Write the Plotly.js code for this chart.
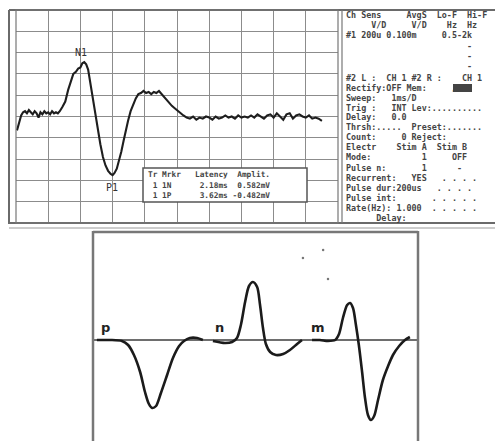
<!DOCTYPE html>
<html><head><meta charset="utf-8">
<script src="https://cdn.plot.ly/plotly-3.0.1.min.js"></script>
<style>html,body{margin:0;padding:0;background:#fff}#c{width:495px;height:441px}</style>
</head><body><div id="c"></div>
<script>
// ---- Top panel: recorded EMG trace (x: ms, y: mV) ----
const traceMs = [0.03,0.09,0.16,0.22,0.28,0.34,0.40,0.46,0.52,0.58,0.64,0.70,0.76,0.82,0.88,0.94,1.00,1.06,1.12,1.18,1.24,1.30,1.36,
 1.44,1.53,1.62,1.70,1.78,1.86,1.93,2.00,2.06,2.12,2.18,2.24,2.30,2.36,2.42,2.48,2.55,2.62,2.70,2.78,2.86,2.94,3.00,3.06,3.13,3.20,3.27,3.34,3.41,3.48,3.56,3.64,3.72,3.80,3.88,3.96,
 4.04,4.12,4.20,4.28,4.36,4.44,4.52,4.60,4.68,4.76,4.84,4.92,5.00,5.10,5.20,5.30,5.40,5.50,5.60,5.70,5.80,5.90,6.00,6.10,6.20,6.30,6.40,6.50,6.60,6.70,6.80,6.90,
 7.00,7.10,7.20,7.30,7.40,7.50,7.60,7.70,7.80,7.90,8.00,8.10,8.20,8.30,8.40,8.50,8.60,8.70,8.80,8.90,9.00,9.10,9.20,9.30,9.40,9.50];
const traceMv = [-0.13,-0.06,0.01,0.04,0.05,0.03,0.06,0.04,0.02,0.05,0.03,-0.01,0.04,0.02,0.05,0.03,0.04,0.02,0.05,0.03,0.04,0.03,0.05,
 0.09,0.14,0.25,0.33,0.40,0.42,0.45,0.46,0.50,0.51,0.49,0.44,0.33,0.22,0.10,-0.02,-0.14,-0.26,-0.38,-0.46,-0.51,-0.54,-0.55,-0.53,-0.49,-0.42,-0.33,-0.23,-0.13,-0.04,0.05,0.11,0.17,0.21,0.22,0.24,
 0.22,0.23,0.21,0.23,0.22,0.24,0.21,0.18,0.16,0.13,0.10,0.08,0.06,0.03,0.01,-0.01,-0.02,0.00,-0.03,-0.01,-0.02,0.00,-0.01,-0.03,0.00,-0.02,-0.01,0.01,-0.01,0.00,-0.02,0.01,
 -0.01,0.00,-0.01,0.01,-0.01,0.02,0.00,-0.02,0.01,0.02,-0.01,0.03,0.00,-0.03,0.02,0.03,-0.02,0.01,0.02,0.00,-0.01,0.01,-0.02,-0.01,-0.02,-0.04];
const peakLabels = ["N1","P1"];
const peakMs = [2.03, 2.99];
const peakMv = [0.60, -0.67];
const tableRows = ["Tr Mrkr   Latency  Amplit.", " 1 1N      2.18ms  0.582mV", " 1 1P      3.62ms -0.482mV"];
const settingsLines = [
 "Ch Sens     AvgS  Lo-F  Hi-F",
 "     V/D     V/D    Hz  Hz",
 "#1 200u 0.100m     0.5-2k",
 "                        -",
 "                        -",
 "                        -",
 "#2 L :  CH 1 #2 R :    CH 1",
 "Rectify:OFF Mem:     /93",
 "Sweep:   1ms/D",
 "Trig :   INT Lev:..........",
 "Delay:   0.0",
 "Thrsh:.....  Preset:.......",
 "Count:     0 Reject:",
 "Electr    Stim A  Stim B",
 "Mode:          1     OFF",
 "Pulse n:       1      -",
 "Recurrent:   YES   . . . .",
 "Pulse dur:200us   . . . .",
 "Pulse int:       . . . . .",
 "Rate(Hz): 1.000  . . . . .",
 "      Delay:"
];
const settingsY = [15,25,35,46,56,66,78,88,98,108,117,127,137,147,157,168,178,188,198,208,218];

// ---- Bottom panel: schematic waveforms p, n, m ----
const pX = [1.2,5.2,8.9,10.8,12.6,14.5,16.0,17.2,18.2,19.4,20.9,22.8,24.6,26.5,28.0,29.8,32.0,33.8];
const pY = [0,0,-0.01,-0.05,-0.15,-0.32,-0.52,-0.64,-0.68,-0.66,-0.53,-0.35,-0.18,-0.06,-0.01,0.02,0.02,0.0];
const nX = [36.9,40.6,42.8,44.3,45.5,46.8,48.0,49.2,50.5,51.4,52.3,53.2,54.5,56.3,58.5,60.6,62.8,64.3];
const nY = [-0.01,-0.03,-0.02,0.02,0.15,0.38,0.54,0.58,0.53,0.35,0.12,-0.04,-0.12,-0.15,-0.14,-0.10,-0.04,0.0];
const mX = [67.4,69.8,72.3,74.5,75.7,76.9,78.2,79.1,80.0,80.9,81.8,82.8,83.7,84.6,85.5,86.5,87.7,89.2,90.8,92.3,94.2,96.0,97.5];
const mY = [0,0,-0.01,0,0.06,0.22,0.35,0.37,0.32,0.15,-0.05,-0.32,-0.58,-0.75,-0.80,-0.76,-0.60,-0.40,-0.26,-0.15,-0.06,0.0,0.03];
const waveLabels = ["p","n","m"];
const waveLabelX = [3.7, 38.8, 69.2];
const waveLabelY = [0.13, 0.13, 0.13];
const speckX = [64.6, 70.8, 72.3];
const speckY = [0.82, 0.90, 0.61];

// ---- layout helpers (pixel -> paper) ----
const W = 495, H = 441;
const PX = v => v / W, PY = v => 1 - v / H;
const line = (x0,y0,x1,y1,c,w) => ({type:'line',xref:'paper',yref:'paper',x0:PX(x0),y0:PY(y0),x1:PX(x1),y1:PY(y1),line:{color:c,width:w}});

const waveStyle = {color:'#1b1b1b', width:2.6, shape:'spline', smoothing:0.8};
const data = [
 {x:traceMs, y:traceMv, xaxis:'x', yaxis:'y', type:'scatter', mode:'lines', line:{color:'#1e1e1e', width:2.1}, hoverinfo:'skip'},
 {x:pX, y:pY, xaxis:'x2', yaxis:'y2', type:'scatter', mode:'lines', line:waveStyle, hoverinfo:'skip'},
 {x:nX, y:nY, xaxis:'x2', yaxis:'y2', type:'scatter', mode:'lines', line:waveStyle, hoverinfo:'skip'},
 {x:mX, y:mY, xaxis:'x2', yaxis:'y2', type:'scatter', mode:'lines', line:waveStyle, hoverinfo:'skip'},
 {x:speckX, y:speckY, xaxis:'x2', yaxis:'y2', type:'scatter', mode:'markers', marker:{color:'#777', size:2.5}, hoverinfo:'skip'}
];

const nb = s => s.replace(/ /g, '\u00A0');
const annotations = [];
settingsLines.forEach((t,i) => annotations.push({xref:'paper', yref:'paper', x:PX(344), y:PY(settingsY[i]), xanchor:'left', yanchor:'middle',
  text:'<b>'+nb(t)+'</b>', showarrow:false, font:{family:'DejaVu Sans Mono', size:8.4, color:'#444'}}));
tableRows.forEach((t,i) => annotations.push({xref:'paper', yref:'paper', x:PX(146), y:PY(175 + i*10), xanchor:'left', yanchor:'middle',
  text:'<b>'+nb(t)+'</b>', showarrow:false, font:{family:'DejaVu Sans Mono', size:7.8, color:'#444'}}));
peakLabels.forEach((t,i) => annotations.push({xref:'x', yref:'y', x:peakMs[i], y:peakMv[i], text:t, showarrow:false,
  font:{family:'DejaVu Sans Mono', size:10, color:'#333'}}));
waveLabels.forEach((t,i) => annotations.push({xref:'x2', yref:'y2', x:waveLabelX[i], y:waveLabelY[i], text:'<b>'+t+'</b>', showarrow:false,
  font:{family:'DejaVu Sans', size:13, color:'#222'}}));

const shapes = [
 line(9,10,495,10,'#6a6a6a',2),
 line(9,10,9,224,'#6a6a6a',2),
 line(9,223,495,223,'#6a6a6a',2),
 line(9,228,495,228,'#9a9a9a',1.2),
 {type:'rect',xref:'paper',yref:'paper',x0:PX(16),y0:PY(223),x1:PX(338),y1:PY(10),line:{color:'#777',width:1.2}},
 line(342,10,342,223,'#777',1.2),
 {type:'rect',xref:'paper',yref:'paper',x0:PX(453),y0:PY(92),x1:PX(472),y1:PY(84),fillcolor:'#444',line:{width:0}},
 {type:'rect',xref:'paper',yref:'paper',x0:PX(143),y0:PY(202),x1:PX(307),y1:PY(168),fillcolor:'#fff',line:{color:'#555',width:1.5},layer:'above'},
 line(93,232,418,232,'#777',2.5),
 line(93,231,93,441,'#777',2.5),
 line(418,231,418,441,'#777',2.5)
];

const layout = {
 width:W, height:H, margin:{l:0,r:0,t:0,b:0}, paper_bgcolor:'#fff', plot_bgcolor:'rgba(0,0,0,0)', showlegend:false,
 xaxis:{domain:[PX(16),PX(338)], range:[0,10], dtick:1, tick0:0, showgrid:true, gridcolor:'#8c8c8c', gridwidth:1, zeroline:false, showticklabels:false, ticks:'', fixedrange:true},
 yaxis:{domain:[PY(223),PY(10)], range:[-1,1], dtick:0.2, tick0:0, showgrid:true, gridcolor:'#8c8c8c', gridwidth:1, zeroline:false, showticklabels:false, ticks:'', fixedrange:true},
 xaxis2:{domain:[PX(93),PX(418)], range:[0,100], anchor:'y2', showgrid:false, zeroline:false, showticklabels:false, ticks:'', fixedrange:true},
 yaxis2:{domain:[0,PY(232)], range:[-1.01,1.08], anchor:'x2', showgrid:false, zeroline:true, zerolinecolor:'#6e6e6e', zerolinewidth:1.3, showticklabels:false, ticks:'', fixedrange:true},
 shapes:shapes, annotations:annotations
};
Plotly.newPlot('c', data, layout, {staticPlot:true, displayModeBar:false});
</script></body></html>
